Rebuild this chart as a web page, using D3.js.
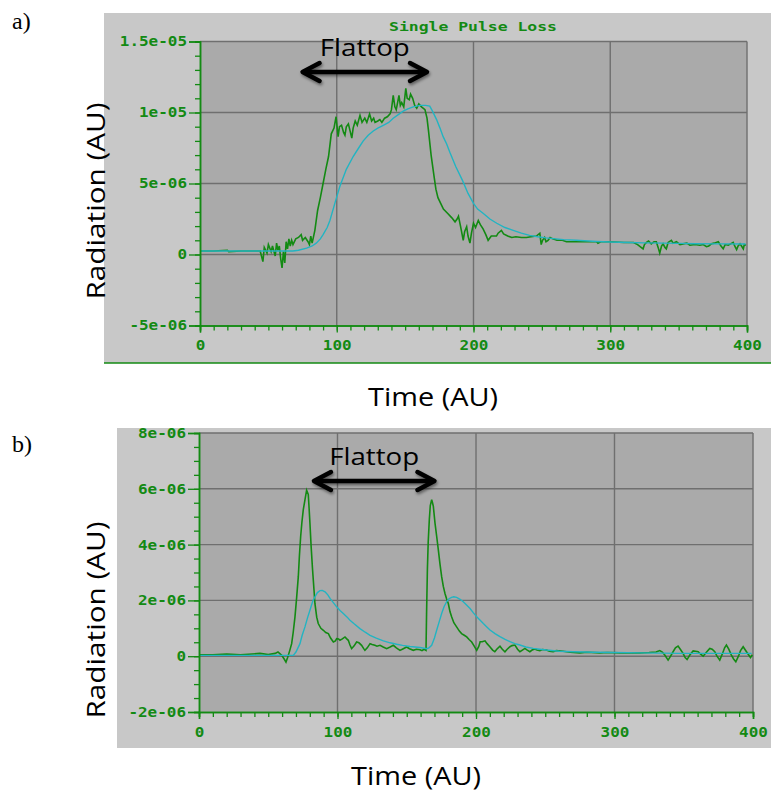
<!DOCTYPE html>
<html>
<head>
<meta charset="utf-8">
<script src="https://cdn.jsdelivr.net/npm/d3@7"></script>
<style>
  body { margin: 0; background: #fff; }
</style>
</head>
<body>
<div id="chart"></div>
<script>
/* Values are in units of 1e-06 (y) and time AU (x) */
var timeTicks = [0, 100, 200, 300, 400];
var timeTickLabels = ["0", "100", "200", "300", "400"];

var yTicksA = [-5, 0, 5, 10, 15];
var yTickLabelsA = ["-5e-06", "0", "5e-06", "1e-05", "1.5e-05"];
var yTicksB = [-2, 0, 2, 4, 6, 8];
var yTickLabelsB = ["-2e-06", "0", "2e-06", "4e-06", "6e-06", "8e-06"];

/* panel a) measured loss (green) */
var greenA = [[0,0.25],[10,0.25],[20,0.3],[21,0.2],[30,0.25],[44,0.25],
  [46,-0.5],[47,0.5],[49,0.1],[50,0.7],[52,0.2],[53,0.6],[55,-0.1],[56,0.8],[57,0.3],[58,0.6],[59,-0.3],[60,-0.95],
  [61,0.2],[62,-0.6],[63,0.9],[64,0.4],[65,1.1],[66,0.6],[67,1.0],[68,0.7],[70,1.1],[72,1.2],[74,1.4],[75,1.0],
  [77,1.2],[79,0.9],[80,0.7],[81,1.3],[82,0.8],[84,1.7],[86,3.1],[88,4.0],[90,5.0],[92,6.0],[94,6.9],[96,8.5],
  [98,8.9],[99.5,9.7],[101,8.3],[102,9.0],[103.5,9.1],[105,8.6],[106,8.4],[107,9.0],[108.5,9.2],[110,8.6],[111,8.2],
  [112,8.9],[113.5,9.4],[115,9.1],[117,9.8],[118.5,9.3],[120.5,9.6],[122,9.3],[124,9.9],[125.5,9.4],[127,9.6],
  [128,9.3],[130,9.4],[131.5,9.5],[133,9.3],[135,9.6],[137,9.7],[139,9.9],[140,10.2],[141.3,11.2],[142.5,10.4],
  [143.5,10.2],[145.5,11.2],[146.5,10.5],[147.5,10.7],[149,10.4],[150.5,11.7],[151.5,11.0],[153,10.9],[154,11.3],
  [155.5,11.0],[157,10.5],[158.5,10.3],[160,10.6],[162,10.4],[164.5,10.2],[166,9.6],[167,8.8],[169,7.0],[171,5.6],
  [172.5,4.6],[174,4.0],[176,3.6],[178,3.2],[181,2.9],[184,2.6],[186.5,2.3],[188,2.5],[189,2.7],[190.5,2.0],
  [192.5,1.0],[193.5,1.6],[195,1.95],[196,1.3],[197.4,0.8],[198.5,1.5],[200,2.2],[201.5,1.9],[203.5,2.4],[205,2.1],
  [207,1.8],[209,1.4],[210.7,1.0],[213,1.3],[216.8,1.3],[218,1.5],[220.4,1.7],[222,1.45],[225,1.3],[228,1.2],
  [231,1.25],[235,1.2],[238.7,1.2],[242,1.25],[246,1.3],[248.5,1.5],[249.5,0.7],[250.5,1.0],[252,1.2],[253,0.9],
  [254.5,1.0],[256,1.2],[258,1.1],[261,1.0],[265,1.0],[268,0.9],[275,0.9],[282,0.9],[290,0.9],[291,0.8],[293,0.9],
  [300,0.9],[310,0.85],[317,0.85],[320,0.7],[324,0.4],[325,0.7],[326.5,0.85],[328,0.95],[330,0.75],[332,0.9],
  [333.7,0.9],[335,0.5],[336.2,0.1],[337.5,0.6],[338.6,0.75],[340,0.5],[341,0.4],[342.3,0.85],[344.7,1.0],[346,0.8],
  [348.4,0.9],[351,0.7],[353.3,0.75],[356,0.8],[358.2,0.65],[362,0.7],[365.5,0.65],[368,0.7],[370.4,0.55],[372,0.6],
  [374,0.75],[376,0.8],[379,0.9],[381,0.6],[382.6,0.4],[384,0.7],[386.3,0.65],[388,0.75],[389.9,0.85],[391,0.6],
  [392.4,0.35],[393.5,0.6],[394.9,0.75],[396,0.6],[397.3,0.4],[398,0.7],[399.2,0.65]];

/* panel a) simulated loss (cyan) */
var cyanA = [[0,0.25],[60,0.25],[68,0.25],[72,0.3],[78,0.45],[82,0.6],[85,0.8],[88,1.1],[90,1.4],[93,1.9],[95,2.4],
  [98.6,3.6],[102.3,4.8],[107,6.0],[112,6.9],[116,7.5],[119.4,8.0],[123,8.4],[126.7,8.7],[130,8.9],[134,9.1],[138,9.3],
  [141.3,9.6],[145,9.85],[148.6,10.1],[152,10.25],[155.9,10.4],[160.8,10.5],[165,10.5],[168,10.45],[170,10.1],[173,9.5],
  [175.5,8.9],[177.8,8.3],[180.3,7.8],[182.7,7.2],[187,6.2],[192,5.2],[196,4.3],[200,3.6],[203,3.2],[207,2.9],[212,2.5],
  [217,2.2],[223,1.9],[229,1.7],[235,1.5],[241,1.35],[247,1.25],[253,1.17],[260,1.1],[266,1.05],[275,1.0],[290,0.92],
  [300,0.88],[314,0.85],[325,0.82],[338,0.8],[350,0.78],[363,0.76],[380,0.75],[399,0.74]];

/* panel b) measured loss (green) */
var greenB = [[0,0.05],[10,0.05],[20,0.08],[30,0.05],[44,0.1],[50,0.06],[55,0.1],[57,0.15],[59.7,0.03],[61.5,-0.1],
  [62.8,-0.21],[64,-0.05],[65.5,0.2],[66.9,0.45],[68,0.85],[69.3,1.41],[70.5,2.1],[71.7,2.85],[72.5,3.6],[73.4,4.29],
  [74.3,4.8],[75.3,5.25],[76.5,5.6],[77.7,5.95],[78.9,5.8],[79.5,5.3],[80.1,4.77],[81,3.9],[82,3.1],[83,2.4],[83.7,1.89],
  [85,1.4],[86.1,1.17],[88,1.0],[89.8,0.93],[91.5,0.85],[93.4,0.81],[95,0.65],[97,0.51],[98.5,0.55],[99.4,0.63],
  [100.8,0.62],[101.8,0.57],[103.5,0.62],[105.4,0.69],[106.5,0.63],[107.8,0.57],[109,0.4],[110.2,0.27],[112,0.37],
  [113.8,0.51],[115.5,0.48],[117.4,0.39],[118.8,0.28],[119.8,0.21],[121.5,0.3],[123.5,0.45],[125,0.42],[127,0.39],
  [128.5,0.36],[130.7,0.39],[133,0.33],[135.5,0.27],[138,0.33],[140.3,0.39],[142.5,0.3],[145.1,0.21],[147.5,0.27],
  [149.9,0.33],[152,0.27],[154.7,0.21],[157,0.25],[159.6,0.23],[161,0.2],[162.5,0.25],[163.9,0.21],[164.3,1.5],
  [164.9,3.1],[165.5,4.1],[166.3,4.9],[167,5.4],[168,5.61],[168.6,5.5],[169.2,5.37],[170.4,4.77],[171.6,4.3],[172.8,3.81],
  [174,3.3],[175.2,2.85],[176.4,2.5],[177.6,2.25],[178.8,2.05],[180,1.89],[181.2,1.6],[182.4,1.41],[184,1.2],[186,1.05],
  [188,0.9],[189.6,0.81],[191.5,0.75],[193.3,0.69],[195,0.6],[196.9,0.51],[198.5,0.38],[200.5,0.21],[202,0.35],
  [203,0.52],[204.5,0.52],[206.5,0.55],[208,0.45],[210,0.34],[212,0.22],[213.6,0.16],[215,0.25],[217.3,0.36],[219,0.25],
  [220.9,0.16],[222.5,0.25],[224.5,0.34],[226,0.38],[228.1,0.4],[230,0.25],[231.7,0.16],[233.5,0.22],[235.3,0.28],
  [237,0.22],[238.9,0.16],[240.5,0.22],[242.5,0.26],[244,0.22],[246.1,0.2],[248,0.24],[250.9,0.22],[253,0.18],
  [255.7,0.16],[258,0.2],[262.9,0.18],[268,0.14],[275,0.12],[280,0.14],[289.4,0.12],[295,0.13],[303.8,0.12],[310,0.12],
  [318.3,0.12],[325,0.13],[330,0.15],[332.7,0.2],[334.5,0.15],[336.3,0.04],[338.7,-0.14],[340.5,0.0],[342.3,0.16],
  [344,0.3],[345.9,0.36],[347.5,0.25],[349.5,0.1],[351,-0.05],[352.4,-0.12],[354.5,0.05],[356.8,0.19],[358.5,0.18],
  [360.4,0.16],[362,0.08],[364,0.0],[366.5,0.15],[368.8,0.28],[370.5,0.25],[372.4,0.16],[374,0.0],[376,-0.14],[378,0.1],
  [379.5,0.3],[380.8,0.4],[382.5,0.25],[384.4,0.04],[386,-0.1],[387.6,-0.2],[389.5,0.0],[391,0.2],[392.9,0.34],
  [395.3,0.16],[396.8,0.05],[398.2,-0.05],[399.5,0.05]];

/* panel b) simulated loss (cyan) */
var cyanB = [[0,0.03],[60,0.03],[68.1,0.03],[70,0.15],[72.9,0.45],[74.5,0.75],[76.5,1.05],[78.5,1.4],[80.1,1.65],[82,1.95],
  [83.7,2.13],[85.5,2.28],[87.3,2.35],[89,2.36],[91,2.31],[93,2.2],[94.6,2.07],[97,1.92],[99.4,1.77],[102,1.63],
  [104.2,1.53],[107,1.4],[109,1.29],[112,1.16],[116.2,0.99],[120,0.86],[123.5,0.75],[128,0.65],[133.1,0.55],[138,0.48],
  [142.7,0.43],[147,0.39],[152.3,0.35],[156,0.33],[159.6,0.31],[164.4,0.27],[166,0.3],[168,0.39],[170,0.65],[171.6,0.93],
  [173.5,1.25],[175.2,1.53],[177,1.78],[178.8,1.95],[180.5,2.06],[182.4,2.11],[184,2.13],[186,2.11],[188.5,2.04],
  [190.8,1.95],[193,1.84],[195.7,1.71],[198,1.56],[200.5,1.41],[203,1.29],[205.3,1.17],[208,1.04],[210.1,0.94],[214,0.8],
  [217.3,0.7],[221,0.6],[224.5,0.52],[228,0.45],[231.7,0.4],[236,0.33],[241.3,0.28],[246,0.25],[250.9,0.22],[260,0.18],
  [270.2,0.16],[285,0.14],[299,0.13],[320,0.12],[347.1,0.1],[370,0.1],[399,0.1]];

/* Flattop markers (time AU) */
var flattopA = [75, 166];
var flattopB = [83, 170];

var GREEN = "#138a13", CYAN = "#22b4c2", GRID = "#6f6f6f";
var tickFont = "'DejaVu Sans Mono', monospace";
var labelFont = "'Open Sans', 'Noto Sans', sans-serif";

var svg = d3.select("#chart").append("svg")
    .attr("width", 771).attr("height", 798);

var defs = svg.append("defs");
var shadow = defs.append("filter").attr("id", "shadow")
    .attr("x", "-20%").attr("y", "-50%").attr("width", "140%").attr("height", "200%");
shadow.append("feDropShadow").attr("dx", 1).attr("dy", 2).attr("stdDeviation", 1.6)
    .attr("flood-color", "#000").attr("flood-opacity", 0.45);

/* Draw one oscilloscope-style panel */
function panel(p) {
    var g = svg.append("g");

    // outer light frame
    g.append("rect").attr("x", p.frame[0]).attr("y", p.frame[1])
        .attr("width", p.frame[2]).attr("height", p.frame[3]).attr("fill", "#c8c8c8");

    var x = d3.scaleLinear().domain([0, 400]).range([p.left, p.right]);
    var y = d3.scaleLinear().domain([p.yTicks[0], p.yTicks[p.yTicks.length - 1]]).range([p.bottom, p.top]);

    g.append("rect").attr("x", p.left).attr("y", p.top)
        .attr("width", p.right - p.left).attr("height", p.bottom - p.top).attr("fill", "#aaaaaa");

    // grid
    g.selectAll(".vg").data(timeTicks.slice(1)).enter().append("line")
        .attr("x1", x).attr("x2", x).attr("y1", p.top).attr("y2", p.bottom)
        .attr("stroke", GRID).attr("stroke-width", 1.4);
    g.selectAll(".hg").data(p.yTicks.slice(1)).enter().append("line")
        .attr("x1", p.left).attr("x2", p.right).attr("y1", y).attr("y2", y)
        .attr("stroke", GRID).attr("stroke-width", 1.4);

    // traces
    var clipId = "clip" + p.name;
    defs.append("clipPath").attr("id", clipId).append("rect")
        .attr("x", p.left).attr("y", p.top - 2).attr("width", p.right - p.left).attr("height", p.bottom - p.top + 2);
    var line = d3.line().x(function(d) { return x(d[0]); }).y(function(d) { return y(d[1]); });
    var traces = g.append("g").attr("clip-path", "url(#" + clipId + ")");
    traces.append("path").datum(p.green).attr("d", line)
        .attr("fill", "none").attr("stroke", GREEN).attr("stroke-width", 1.6);
    traces.append("path").datum(p.cyan).attr("d", line)
        .attr("fill", "none").attr("stroke", CYAN).attr("stroke-width", 1.4);

    // minor ticks
    var yMinor = d3.range(p.yTicks[0], p.yTicks[p.yTicks.length - 1] + 1e-9, p.yMinor);
    g.append("g").attr("transform", "translate(" + p.left + ",0)")
        .call(d3.axisLeft(y).tickValues(yMinor).tickSize(5).tickFormat(""))
        .call(styleAxis);
    g.append("g").attr("transform", "translate(0," + p.bottom + ")")
        .call(d3.axisBottom(x).tickValues(d3.range(0, 401, 10)).tickSize(5).tickFormat(""))
        .call(styleAxis);

    // major ticks with labels
    g.append("g").attr("transform", "translate(" + p.left + ",0)")
        .call(d3.axisLeft(y).tickValues(p.yTicks).tickSize(11).tickPadding(2)
            .tickFormat(function(d, i) { return p.yLabels[i]; }))
        .call(styleAxis);
    g.append("g").attr("transform", "translate(0," + p.bottom + ")")
        .call(d3.axisBottom(x).tickValues(timeTicks).tickSize(7).tickPadding(8)
            .tickFormat(function(d, i) { return timeTickLabels[i]; }))
        .call(styleAxis);

    // axis titles
    g.append("text")
        .attr("transform", "translate(" + p.yTitle[0] + "," + p.yTitle[1] + ") rotate(-90)")
        .attr("text-anchor", "middle")
        .attr("textLength", 197).attr("lengthAdjust", "spacingAndGlyphs")
        .style("font-family", labelFont).style("font-size", "26px").attr("fill", "#000")
        .text("Radiation (AU)");
    g.append("text")
        .attr("x", p.xTitle[0]).attr("y", p.xTitle[1]).attr("text-anchor", "middle")
        .attr("textLength", 130).attr("lengthAdjust", "spacingAndGlyphs")
        .style("font-family", labelFont).style("font-size", "26px").attr("fill", "#000")
        .text("Time (AU)");

    // panel letter
    g.append("text").attr("x", 12).attr("y", p.letterY)
        .style("font-family", "'Liberation Serif', 'Times New Roman', serif").style("font-size", "24px")
        .text(p.letter);

    // flattop annotation
    var ax0 = x(p.flattop[0]), ax1 = x(p.flattop[1]);
    var arrow = g.append("g").attr("filter", "url(#shadow)")
        .attr("stroke", "#000").attr("stroke-width", 4.5).attr("fill", "none")
        .attr("stroke-linecap", "round").attr("stroke-linejoin", "round");
    arrow.append("line").attr("x1", ax0 + 2).attr("x2", ax1 - 2).attr("y1", p.arrowY).attr("y2", p.arrowY);
    arrow.append("polyline").attr("points", [[ax0 + 17, p.arrowY - 9], [ax0, p.arrowY], [ax0 + 17, p.arrowY + 9]].join(" "));
    arrow.append("polyline").attr("points", [[ax1 - 17, p.arrowY - 9], [ax1, p.arrowY], [ax1 - 17, p.arrowY + 9]].join(" "));
    g.append("text").attr("x", (ax0 + ax1) / 2).attr("y", p.arrowY - 16).attr("text-anchor", "middle")
        .attr("textLength", 90).attr("lengthAdjust", "spacingAndGlyphs")
        .style("font-family", labelFont).style("font-size", "24px").attr("fill", "#000")
        .text("Flattop");

    return g;
}

function styleAxis(sel) {
    sel.select(".domain").attr("stroke", GREEN).attr("stroke-width", 1.5);
    sel.selectAll(".tick line").attr("stroke", GREEN).attr("stroke-width", 1.3);
    sel.selectAll(".tick text")
        .attr("fill", GREEN)
        .style("font-family", tickFont).style("font-size", "14px").style("font-weight", "bold")
        .attr("textLength", function() { return this.textContent.length * 9.6; })
        .attr("lengthAdjust", "spacingAndGlyphs");
}

var ga = panel({
    name: "A", letter: "a)", letterY: 29,
    frame: [104, 13, 667, 350],
    left: 200, right: 747, top: 41.5, bottom: 325.5,
    yTicks: yTicksA, yLabels: yTickLabelsA, yMinor: 1,
    green: greenA, cyan: cyanA,
    yTitle: [105, 201], xTitle: [433, 406],
    flattop: flattopA, arrowY: 72
});
// plot title and bottom rule of panel a
ga.append("text").attr("x", 473).attr("y", 31).attr("text-anchor", "middle")
    .attr("textLength", 168).attr("lengthAdjust", "spacingAndGlyphs")
    .style("font-family", tickFont).style("font-size", "13px").style("font-weight", "bold")
    .attr("fill", GREEN).text("Single Pulse Loss");
ga.append("line").attr("x1", 104).attr("x2", 771).attr("y1", 363).attr("y2", 363)
    .attr("stroke", GREEN).attr("stroke-width", 1.5);

panel({
    name: "B", letter: "b)", letterY: 452,
    frame: [117, 428, 654, 320],
    left: 199, right: 753, top: 433, bottom: 712,
    yTicks: yTicksB, yLabels: yTickLabelsB, yMinor: 0.5,
    green: greenB, cyan: cyanB,
    yTitle: [105, 620], xTitle: [416, 785],
    flattop: flattopB, arrowY: 481
});
</script>
</body>
</html>
